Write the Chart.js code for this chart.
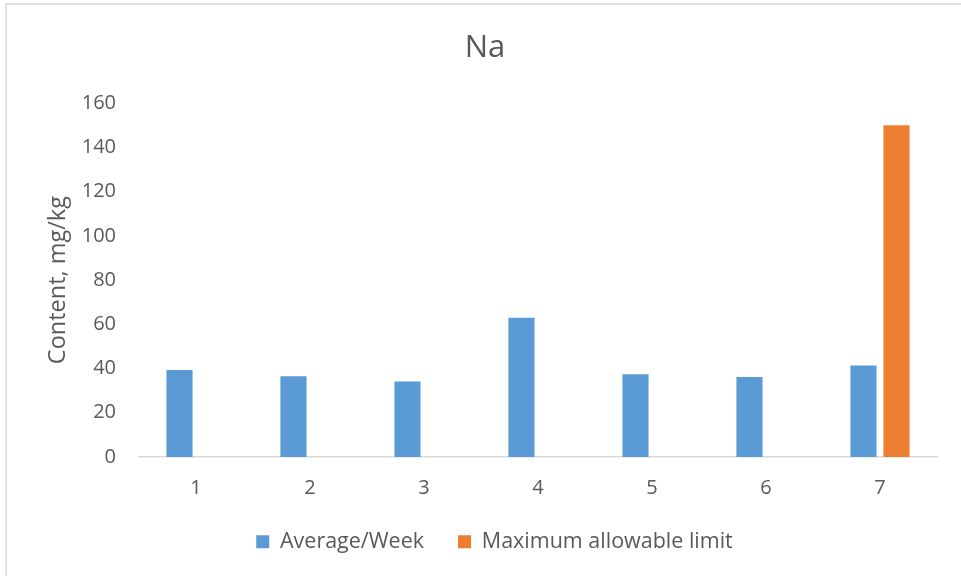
<!DOCTYPE html>
<html>
<head>
<meta charset="utf-8">
<title>Na</title>
<script src="https://cdn.jsdelivr.net/npm/chart.js@4/dist/chart.umd.min.js"></script>
<style>
  html, body { margin: 0; padding: 0; background: #ffffff; }
  #wrap { position: relative; width: 961px; height: 576px; }
</style>
</head>
<body>
<div id="wrap"><canvas id="chart" width="961" height="576"></canvas></div>
<script>
// Weekly sodium content (mg/kg) and the regulatory limit
const weeks = ['1', '2', '3', '4', '5', '6', '7'];
const averagePerWeek = [39.3, 36.5, 34.2, 63.0, 37.4, 36.2, 41.4];
const maxAllowable = [null, null, null, null, null, null, 150];
const yTicks = [0, 20, 40, 60, 80, 100, 120, 140, 160];

const textColor = '#595959';
const fontFamily = '"Open Sans", "Liberation Sans", sans-serif';

// Thin frame along the left and top edges of the chart box
const framePlugin = {
  id: 'frame',
  beforeDraw(chart) {
    const ctx = chart.ctx;
    ctx.save();
    ctx.fillStyle = '#ffffff';
    ctx.fillRect(0, 0, chart.width, chart.height);
    ctx.strokeStyle = '#d9d9d9';
    ctx.lineWidth = 1.5;
    ctx.beginPath();
    ctx.moveTo(6, chart.height);
    ctx.lineTo(6, 4);
    ctx.lineTo(chart.width, 4);
    ctx.stroke();
    ctx.restore();
  }
};

// Centre the title and legend over the whole canvas rather than the padded box
const centrePlugin = {
  id: 'centre',
  afterLayout(chart) {
    if (chart.titleBlock) chart.titleBlock.left += 27;
    if (chart.legend) chart.legend.left += 46;
  }
};

new Chart(document.getElementById('chart'), {
  type: 'bar',
  data: {
    labels: weeks,
    datasets: [
      {
        label: 'Average/Week',
        data: averagePerWeek,
        backgroundColor: '#5B9BD5',
        categoryPercentage: 0.58,
        barPercentage: 0.79
      },
      {
        label: 'Maximum allowable limit',
        data: maxAllowable,
        backgroundColor: '#ED7D31',
        categoryPercentage: 0.58,
        barPercentage: 0.79
      }
    ]
  },
  options: {
    responsive: false,
    animation: false,
    layout: { padding: { top: 30, right: 24, bottom: 13.5, left: 6 } },
    plugins: {
      title: {
        display: true,
        text: 'Na',
        color: textColor,
        font: { family: fontFamily, size: 31, weight: 'normal' },
        padding: { top: 0, bottom: 36 }
      },
      legend: {
        position: 'bottom',
        labels: {
          color: textColor,
          font: { family: fontFamily, size: 21.5 },
          boxWidth: 13,
          boxHeight: 13,
          padding: 34
        }
      },
      tooltip: { enabled: false }
    },
    scales: {
      x: {
        afterFit(scale) {
          scale.height = 40;
        },
        grid: { display: false, drawTicks: false },
        border: { color: '#d9d9d9', width: 1.5 },
        ticks: {
          color: textColor,
          font: { family: fontFamily, size: 20 },
          padding: 19
        }
      },
      y: {
        min: 0,
        max: 160,
        afterBuildTicks(scale) {
          scale.ticks = yTicks.map(v => ({ value: v }));
        },
        afterFit(scale) {
          scale.width = 133;
        },
        grid: { display: false, drawTicks: false },
        border: { display: false },
        ticks: {
          color: textColor,
          font: { family: fontFamily, size: 20 },
          padding: 23
        },
        title: {
          display: true,
          text: 'Content, mg/kg',
          color: textColor,
          font: { family: fontFamily, size: 23.5 },
          padding: { top: 38, bottom: 0 }
        }
      }
    }
  },
  plugins: [framePlugin, centrePlugin]
});
</script>
</body>
</html>
